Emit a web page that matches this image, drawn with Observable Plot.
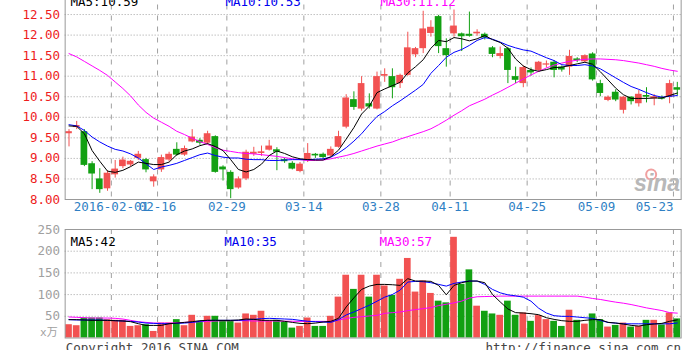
<!DOCTYPE html>
<html><head><meta charset="utf-8">
<script src="https://cdn.jsdelivr.net/npm/d3@7"></script>
<script src="https://cdn.jsdelivr.net/npm/@observablehq/plot@0.6"></script>
<style>
html,body{margin:0;padding:0;background:#fff;overflow:hidden}
#wrap{position:relative;width:699px;height:350px;overflow:hidden;background:#fff}
#wrap svg{position:absolute;left:0;overflow:visible}
</style></head><body><div id="wrap"></div>
<script>
const dates = ["2016-01-22",
"2016-01-25","2016-01-26","2016-01-27","2016-01-28","2016-01-29",
"2016-02-01","2016-02-02","2016-02-03","2016-02-04","2016-02-05",
"2016-02-15","2016-02-16","2016-02-17","2016-02-18","2016-02-19",
"2016-02-22","2016-02-23","2016-02-24","2016-02-25","2016-02-26",
"2016-02-29","2016-03-01","2016-03-02","2016-03-03","2016-03-04",
"2016-03-07","2016-03-08","2016-03-09","2016-03-10","2016-03-11",
"2016-03-14","2016-03-15","2016-03-16","2016-03-17","2016-03-18",
"2016-03-21","2016-03-22","2016-03-23","2016-03-24","2016-03-25",
"2016-03-28","2016-03-29","2016-03-30","2016-03-31","2016-04-01",
"2016-04-05","2016-04-06","2016-04-07","2016-04-08",
"2016-04-11","2016-04-12","2016-04-13","2016-04-14","2016-04-15",
"2016-04-18","2016-04-19","2016-04-20","2016-04-21","2016-04-22",
"2016-04-25","2016-04-26","2016-04-27","2016-04-28","2016-04-29",
"2016-05-03","2016-05-04","2016-05-05","2016-05-06",
"2016-05-09","2016-05-10","2016-05-11","2016-05-12","2016-05-13",
"2016-05-16","2016-05-17","2016-05-18","2016-05-19","2016-05-20",
"2016-05-23"];

const open = [9.60,9.75,9.65,8.87,8.50,8.26,8.60,8.80,8.84,9.00,
8.97,8.43,8.72,8.96,9.22,9.08,9.40,9.44,9.37,9.53,
8.79,8.66,8.28,8.50,9.10,9.12,9.20,9.21,8.97,8.88,
8.68,8.94,9.10,9.10,9.06,9.27,9.76,10.43,10.20,10.33,
10.20,11.00,10.99,10.82,11.02,11.52,11.67,12.04,12.45,11.67,
12.03,12.03,12.02,12.03,12.02,11.69,11.48,11.67,10.99,10.82,
11.14,11.14,11.27,11.34,11.22,11.22,11.42,11.35,11.54,10.82,
10.41,10.61,10.17,10.49,10.33,10.53,10.45,10.47,10.49,10.72];
const high = [9.70,9.90,9.70,8.92,8.75,8.70,8.95,9.03,8.95,9.17,
9.00,8.60,9.08,9.15,9.38,9.30,9.70,9.48,9.66,9.55,
8.82,8.70,8.55,9.20,9.27,9.30,9.44,9.26,9.00,8.92,
8.90,9.36,9.12,9.13,9.28,9.66,10.55,10.62,10.99,10.57,
11.10,11.18,11.18,11.05,12.07,11.70,12.58,12.35,12.48,11.91,
12.61,12.05,12.56,12.13,12.05,11.72,11.71,11.70,11.22,11.25,
11.20,11.36,11.37,11.38,11.25,11.63,11.45,11.52,11.57,10.90,
10.52,10.67,10.50,10.50,10.65,10.72,10.55,10.52,10.90,10.85];
const low = [9.28,9.70,8.80,8.24,8.15,8.20,8.52,8.75,8.80,8.95,
8.65,8.30,8.66,8.92,9.05,9.05,9.38,9.32,9.33,8.64,
8.45,8.02,8.25,8.46,9.05,9.05,9.18,8.70,8.88,8.72,
8.65,8.90,9.00,8.98,9.04,9.25,9.72,10.17,10.15,10.20,
10.18,10.85,10.45,10.70,11.00,11.45,11.55,11.95,11.55,11.22,
11.95,11.60,11.95,11.97,11.88,11.45,11.42,10.82,10.82,10.72,
11.00,11.10,11.20,10.96,11.10,11.02,11.33,11.33,10.88,10.50,
10.38,10.38,10.08,10.30,10.25,10.35,10.28,10.42,10.33,10.53];
const close = [9.65,9.80,8.83,8.62,8.24,8.64,8.74,8.96,8.93,9.10,
8.72,8.55,9.02,9.10,9.08,9.24,9.52,9.37,9.60,8.66,
8.72,8.24,8.50,9.15,9.15,9.16,9.30,9.15,8.92,8.74,
8.86,9.12,9.06,9.02,9.22,9.53,10.47,10.24,10.82,10.25,
10.99,11.04,10.72,11.02,11.69,11.67,12.15,12.19,11.72,11.50,
12.22,11.96,11.97,12.07,11.93,11.53,11.55,11.14,10.90,11.21,
11.08,11.34,11.30,11.14,11.15,11.48,11.38,11.50,10.91,10.58,
10.49,10.42,10.49,10.38,10.56,10.49,10.50,10.44,10.82,10.66];

const ma5 = [9.79,9.78,9.60,9.19,8.93,8.69,8.66,8.71,8.80,8.91,
8.88,8.85,8.85,8.91,9.09,9.18,9.23,9.31,9.36,9.29,
9.19,8.97,8.73,8.67,8.73,8.86,9.07,9.18,9.12,9.04,
8.99,8.97,8.96,8.96,9.04,9.20,9.47,9.75,10.08,10.27,
10.60,10.69,10.77,10.85,11.08,11.23,11.40,11.68,11.87,11.84,
11.94,11.91,11.86,11.91,11.99,11.89,11.82,11.68,11.42,11.25,
11.16,11.12,11.16,11.21,11.22,11.26,11.30,11.34,11.29,11.11,
10.91,10.71,10.55,10.46,10.46,10.46,10.47,10.47,10.53,10.59];
const ma10 = [9.82,9.79,9.68,9.52,9.40,9.30,9.22,9.18,9.11,9.01,
8.87,8.73,8.79,8.83,8.88,8.95,9.02,9.09,9.13,9.07,
9.03,9.01,9.01,8.98,8.97,8.97,8.95,8.95,8.96,8.97,
8.97,8.97,8.98,8.99,9.03,9.13,9.26,9.42,9.60,9.82,
10.02,10.14,10.28,10.40,10.53,10.66,10.80,11.07,11.26,11.46,
11.58,11.65,11.75,11.87,11.94,11.90,11.83,11.75,11.69,11.64,
11.61,11.53,11.45,11.38,11.28,11.26,11.26,11.28,11.25,11.18,
11.07,10.96,10.85,10.75,10.68,10.60,10.53,10.49,10.51,10.53];
const ma30 = [11.55,11.47,11.36,11.25,11.14,11.02,10.86,10.70,10.52,10.30,
10.12,9.98,9.88,9.78,9.66,9.58,9.49,9.41,9.34,9.26,
9.20,9.17,9.14,9.12,9.11,9.09,9.07,9.05,9.02,8.99,
8.97,8.95,8.95,8.96,8.99,9.03,9.07,9.12,9.18,9.24,
9.30,9.35,9.40,9.47,9.53,9.59,9.65,9.72,9.82,9.93,
10.05,10.16,10.28,10.36,10.44,10.54,10.63,10.73,10.83,10.93,
11.03,11.12,11.20,11.27,11.32,11.36,11.39,11.41,11.42,11.42,
11.41,11.40,11.38,11.35,11.32,11.28,11.24,11.19,11.15,11.12];

const volume = [30.6,28.3,46,46,46,42,40.7,40.7,26.7,28.3,
30.6,15.1,34.4,34.4,42.3,28.3,52.3,36,50,50,
38.4,38.4,34.4,55.4,52.3,61.6,38.4,40.7,36,22.8,
26.7,46,26.7,26.7,50,94.2,144.6,112,144.6,94.2,
144.6,119.8,98,135.3,183.3,105.8,131.4,102.7,84.9,81,
232,123.7,157,73.3,61.6,55.4,52.3,84.9,52.3,57.7,
38.4,51.6,42.3,38.4,26.7,64,40.7,32,55.4,42.3,
25.2,29,34.4,25.2,26.7,40.7,40.7,30,57.7,44];
const vma5 = [42.3,42.3,41.5,40.7,40.7,40.7,39.9,39.2,37.6,33,
29,29,29,33,34.4,36,37.6,39.9,40.7,40.7,
40.7,40.7,41.5,43.8,43,40.7,40.7,40.7,38.4,36,
33.7,33,34.4,36.8,38.4,45.3,71.6,92.5,111.9,119.6,
123.5,123.5,122.7,121.2,136.7,131.2,131.2,130.5,121.2,99.5,
121.2,127.4,131.2,131.2,127.4,100.2,83.2,66.9,58.4,57.6,
56,53.7,46.7,42.9,39.9,38.4,38.4,40.7,42.3,42.3,
36.1,34.5,32.2,29.1,27.5,30.6,32.2,33.7,38.4,41.8];
const vma10 = [42.3,41.5,41.5,41.5,41.5,40.7,39.9,39.2,38.4,36.8,
34.4,33.7,33,33,33.7,34.4,36,38.4,40.7,40.7,
40.7,40.7,40.7,41.5,43,44.6,45.3,44.6,43.8,43,
40.7,38.4,37.6,36.8,36,42.3,53.1,60,67.8,75.5,
84.8,94.1,100.2,110.3,128.9,130.5,129.7,127.4,123.5,119.6,
125.8,128.9,131.2,131.2,123.5,111.9,104.1,99.5,97.1,94.1,
84.8,68.6,57.6,51.4,49.9,49.9,48.3,46.7,45.2,40.5,
35.8,34.3,32.7,32.7,32.7,32.7,32.7,32.7,32.7,34.6];
const vma30 = [48.4,47.6,46.8,46,46,46,45.3,43.7,40.6,37.5,
36,34.4,34.4,34.4,35.2,36,36.8,37.5,38.3,39.1,
39.9,39.9,39.9,39.9,39.1,39.1,39.1,39.1,38.7,38.7,
38.3,38.3,38.3,38.3,38.3,41,45,47.6,49.1,50.7,
52.2,56.8,58.4,59.9,63,65.4,67.7,70,74.7,77.8,
80.9,85,92,95,95.5,96,96.5,96.5,96.5,96.5,
96.5,96.5,96.5,96.5,96.5,96.5,96.5,94.2,91.1,88.8,
85.6,82.6,80.2,77.1,73.3,69.4,66.3,63.2,58.5,57.3];

const priceTicks = [8.00,8.50,9.00,9.50,10.00,10.50,11.00,11.50,12.00,12.50];
const volumeTicks = [50,100,150,200,250];
const tickDates = ["2016-02-01","2016-02-16","2016-02-29","2016-03-14","2016-03-28","2016-04-11","2016-04-25","2016-05-09","2016-05-23"];
const tickLabels = ["2016-02-01","02-16","02-29","03-14","03-28","04-11","04-25","05-09","05-23"];

const RED = "#f25252", GREEN = "#12a012";
const GRID = "#a0a0a0";
const FONT = "'DejaVu Sans Mono', 'Noto Sans CJK SC', monospace";
const n = dates.length;
const half = 0.435;
const rows = dates.map((date, i) => ({i, date, open: open[i], high: high[i], low: low[i], close: close[i],
  volume: volume[i], ma5: ma5[i], ma10: ma10[i], ma30: ma30[i], vma5: vma5[i], vma10: vma10[i], vma30: vma30[i]}));
const col = d => d.close >= d.open ? RED : GREEN;
const gridPos = tickDates.map(d => dates.indexOf(d) - 0.5);
const tickRows = tickDates.map((d, k) => ({pos: dates.indexOf(d) - 0.5, label: tickLabels[k]}));
const last = a => a[a.length - 1];
const xOpt = {domain: [-0.5, n - 0.5], axis: null};

const topPlot = Plot.plot({
  width: 699, height: 240,
  marginLeft: 64.65, marginRight: 18.35, marginTop: 13.5, marginBottom: 21,
  x: xOpt,
  y: {domain: [8, 13], axis: null},
  color: {type: "identity"},
  style: {fontFamily: FONT, background: "transparent", overflow: "visible"},
  marks: [
    Plot.ruleY(priceTicks.slice(1), {stroke: GRID, strokeDasharray: "1,2"}),
    Plot.ruleX(gridPos, {stroke: GRID, strokeDasharray: "5,6"}),
    Plot.ruleX(rows, {x: "i", y1: "low", y2: "high", stroke: col, strokeWidth: 1}),
    Plot.rect(rows, {x1: d => d.i - half, x2: d => d.i + half, y1: "open", y2: "close", fill: col}),
    Plot.line(rows, {x: "i", y: "ma30", stroke: "#ff00ff", strokeWidth: 1}),
    Plot.line(rows, {x: "i", y: "ma10", stroke: "#0000ff", strokeWidth: 1}),
    Plot.line(rows, {x: "i", y: "ma5", stroke: "#000000", strokeWidth: 1}),
    Plot.frame({stroke: "#999"}),
    Plot.text(priceTicks, {y: d => d, frameAnchor: "left", dx: -5, textAnchor: "end", text: d => d.toFixed(2), fill: "#ee1c1c", fontSize: 12.5}),
    Plot.text(tickRows.slice(0, -1), {x: "pos", text: "label", frameAnchor: "bottom", dy: 11, fill: "#2f7fc4", fontSize: 12.5}),
    Plot.text(tickRows.slice(-1), {x: "pos", text: "label", frameAnchor: "bottom", dy: 11, textAnchor: "end", fill: "#2f7fc4", fontSize: 12.5}),
    Plot.text([`MA5:${last(ma5).toFixed(2)}`], {frameAnchor: "top-left", dx: 5.35, dy: 11.5, lineAnchor: "bottom", textAnchor: "start", fill: "#000", fontSize: 12.5}),
    Plot.text([`MA10:${last(ma10).toFixed(2)}`], {frameAnchor: "top-left", dx: 160.3, dy: 11.5, lineAnchor: "bottom", textAnchor: "start", fill: "#0000ee", fontSize: 12.5}),
    Plot.text([`MA30:${last(ma30).toFixed(2)}`], {frameAnchor: "top-left", dx: 315.3, dy: 11.5, lineAnchor: "bottom", textAnchor: "start", fill: "#ff00ff", fontSize: 12.5}),
    Plot.dot([0], {frameAnchor: "bottom-right", dx: -30, dy: -25, r: 5, stroke: "#f0a0a0", strokeWidth: 2, fill: "none"}),
    Plot.text(["sina"], {frameAnchor: "bottom-right", dx: -1, dy: -9, lineAnchor: "bottom", textAnchor: "end", fill: "#b8b8b8", fontSize: 23, fontWeight: "bold", fontStyle: "italic", fontFamily: "'Liberation Sans', Arial, sans-serif"})
  ]
});
topPlot.style.top = "-20px";

const botPlot = Plot.plot({
  width: 699, height: 135,
  marginLeft: 64.65, marginRight: 18.35, marginTop: 14, marginBottom: 12.5,
  x: xOpt,
  y: {domain: [0, 250], axis: null},
  color: {type: "identity"},
  style: {fontFamily: FONT, background: "transparent", overflow: "visible"},
  marks: [
    Plot.ruleY(volumeTicks.slice(0, -1), {stroke: GRID, strokeDasharray: "1,2"}),
    Plot.ruleX(gridPos, {stroke: GRID, strokeDasharray: "5,6"}),
    Plot.rect(rows, {x1: d => d.i - half, x2: d => d.i + half, y1: 0, y2: "volume", fill: col}),
    Plot.line(rows, {x: "i", y: "vma30", stroke: "#ff00ff", strokeWidth: 1}),
    Plot.line(rows, {x: "i", y: "vma10", stroke: "#0000ff", strokeWidth: 1}),
    Plot.line(rows, {x: "i", y: "vma5", stroke: "#000000", strokeWidth: 1}),
    Plot.frame({stroke: "#999"}),
    Plot.text(volumeTicks, {y: d => d, frameAnchor: "left", dx: -5, textAnchor: "end", text: d => String(d), fill: "#a0a0a0", fontSize: 12.5}),
    Plot.text(["x万"], {frameAnchor: "bottom-left", dx: -7.5, dy: -2, textAnchor: "end", fill: "#a0a0a0", fontSize: 11}),
    Plot.text([`MA5:${Math.round(last(vma5))}`], {frameAnchor: "top-left", dx: 5.35, dy: 8, textAnchor: "start", fill: "#000", fontSize: 12.5}),
    Plot.text([`MA10:${Math.round(last(vma10))}`], {frameAnchor: "top-left", dx: 159, dy: 8, textAnchor: "start", fill: "#0000ee", fontSize: 12.5}),
    Plot.text([`MA30:${Math.round(last(vma30))}`], {frameAnchor: "top-left", dx: 314.3, dy: 8, textAnchor: "start", fill: "#ff00ff", fontSize: 12.5}),
    Plot.text(["Copyright 2016 SINA.COM"], {frameAnchor: "bottom-left", dx: 0.5, dy: 13.5, lineAnchor: "bottom", textAnchor: "start", fill: "#444", fontSize: 12.5}),
    Plot.text(["http://finance.sina.com.cn"], {frameAnchor: "bottom-right", dx: 0, dy: 13.5, lineAnchor: "bottom", textAnchor: "end", fill: "#444", fontSize: 12.5})
  ]
});
botPlot.style.top = "215px";

const wrap = document.getElementById("wrap");
wrap.appendChild(topPlot);
wrap.appendChild(botPlot);
</script></body></html>
